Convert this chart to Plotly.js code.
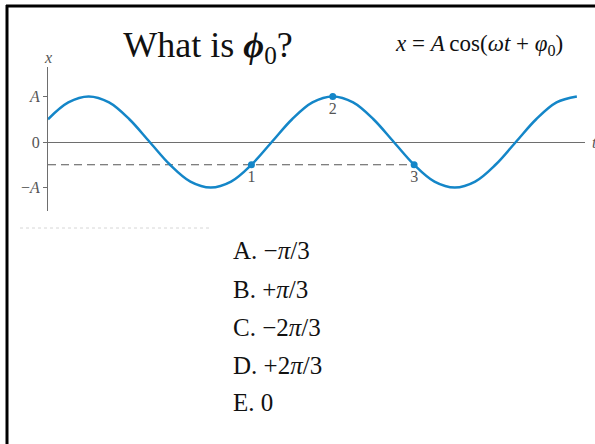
<!DOCTYPE html>
<html>
<head>
<meta charset="utf-8">
<script src="https://cdn.plot.ly/plotly-3.0.1.min.js"></script>
<style>
  html, body { margin: 0; padding: 0; background: #fff; }
  #chart { width: 595px; height: 444px; }
</style>
</head>
<body>
<div id="chart"></div>
<script>
// Oscillation x = A cos(ωt + φ0), sampled every 1/12 of a period (t in twelfths of T)
const tValues = [0,1,2,3,4,5,6,7,8,9,10,11,12,13,14,15,16,17,18,19,20,21,22,23,24,25,26];
const xValues = [0.5,0.87,1,0.87,0.5,0,-0.5,-0.87,-1,-0.87,-0.5,0,0.5,0.87,1,0.87,0.5,0,-0.5,-0.87,-1,-0.87,-0.5,0,0.5,0.87,1];

// Marked instants on the curve
const pointT = [10, 14, 18];
const pointX = [-0.5, 1, -0.5];
const pointNames = ['1', '2', '3'];

// Dashed reference level through points 1 and 3
const refT = [0, 18];
const refX = [-0.5, -0.5];

// Axis tick labels
const tickValues = [-1, 0, 1];
const tickLabels = ['\u2212<i>A</i>', '0', '<i>A</i>'];

// Answer choices
const choiceLetters = ['A.', 'B.', 'C.', 'D.', 'E.'];
const choiceValues = ['\u2212<i>\u03c0</i>/3', '+<i>\u03c0</i>/3', '\u22122<i>\u03c0</i>/3', '+2<i>\u03c0</i>/3', '0'];

const W = 595, H = 444;
const M = {l: 48, r: 10, t: 67, b: 233};
const plotW = W - M.l - M.r, plotH = H - M.t - M.b;
const px = x => (x - M.l) / plotW;          // pixel -> paper x
const py = y => (H - M.b - y) / plotH;      // pixel -> paper y

const BLUE = '#1486c8';
const GREY = '#6e6e6e';
const TEXT_GREY = '#555555';
const SERIF = 'Liberation Serif, Times New Roman, serif';

const traces = [
  {
    x: refT, y: refX, mode: 'lines', hoverinfo: 'skip',
    line: {color: '#555555', width: 1, dash: '8px,5px'}
  },
  {
    x: tValues, y: xValues, mode: 'lines', hoverinfo: 'skip',
    line: {color: BLUE, width: 2.5, shape: 'spline', smoothing: 1}
  },
  {
    x: pointT, y: pointX, mode: 'markers+text', text: pointNames,
    textposition: 'bottom center', hoverinfo: 'skip',
    marker: {color: BLUE, size: 7},
    textfont: {family: SERIF, size: 16, color: TEXT_GREY}
  }
];

const annotations = [
  {xref: 'paper', yref: 'paper', x: px(479), y: py(45), xanchor: 'center', yanchor: 'middle',
   text: '<i>x</i> = <i>A</i>\u2009cos(<i>\u03c9t</i> + <i>\u03c6</i><sub>0</sub>)', showarrow: false,
   font: {family: SERIF, size: 23, color: '#111'}},
  {xref: 'paper', yref: 'paper', x: px(48), y: py(57), xanchor: 'center', yanchor: 'middle',
   text: '<i>x</i>', showarrow: false, font: {family: SERIF, size: 16, color: TEXT_GREY}},
  {xref: 'paper', yref: 'paper', x: px(594), y: py(142), xanchor: 'center', yanchor: 'middle',
   text: '<i>t</i>', showarrow: false, font: {family: SERIF, size: 16, color: TEXT_GREY}}
];

const choiceY = [250, 289, 327, 365, 403];
choiceLetters.forEach((letter, i) => {
  annotations.push({
    xref: 'paper', yref: 'paper', x: px(231), y: py(choiceY[i]),
    xanchor: 'left', yanchor: 'middle', showarrow: false,
    text: letter + ' ' + choiceValues[i],
    font: {family: SERIF, size: 25, color: '#111'}
  });
});

const shapes = [
  // frame: top and left rules
  {type: 'line', xref: 'paper', yref: 'paper', x0: px(6), x1: px(W + 2), y0: py(6), y1: py(6),
   line: {color: '#000', width: 3}},
  {type: 'line', xref: 'paper', yref: 'paper', x0: px(7), x1: px(7), y0: py(5), y1: py(H + 2),
   line: {color: '#000', width: 3}},
  // faint caption rule under the graph
  {type: 'line', xref: 'paper', yref: 'paper', x0: px(20), x1: px(210), y0: py(228), y1: py(228),
   line: {color: '#d6d6d6', width: 1, dash: 'dot'}}
];

const layout = {
  width: W, height: H,
  margin: M,
  paper_bgcolor: '#fff', plot_bgcolor: '#fff',
  showlegend: false,
  title: {
    text: 'What is <b><i>\u03d5</i></b><sub>0</sub>?',
    x: 208 / W, xanchor: 'center', xref: 'container',
    y: 1 - 44 / H, yanchor: 'middle', yref: 'container',
    font: {family: SERIF, size: 36, color: '#111'}
  },
  xaxis: {
    range: [0, 26.4], showgrid: false, zeroline: false, showline: false,
    showticklabels: false, ticks: '', fixedrange: true
  },
  yaxis: {
    range: [-1.516, 1.648], showgrid: false,
    zeroline: true, zerolinecolor: GREY, zerolinewidth: 1,
    showline: true, linecolor: GREY, linewidth: 1,
    ticks: 'outside', ticklen: 4, tickcolor: GREY, tickwidth: 1,
    tickvals: tickValues, ticktext: tickLabels,
    tickfont: {family: SERIF, size: 16, color: TEXT_GREY}, fixedrange: true
  },
  annotations: annotations,
  shapes: shapes
};

Plotly.newPlot('chart', traces, layout, {displayModeBar: false, staticPlot: true});
</script>
</body>
</html>
